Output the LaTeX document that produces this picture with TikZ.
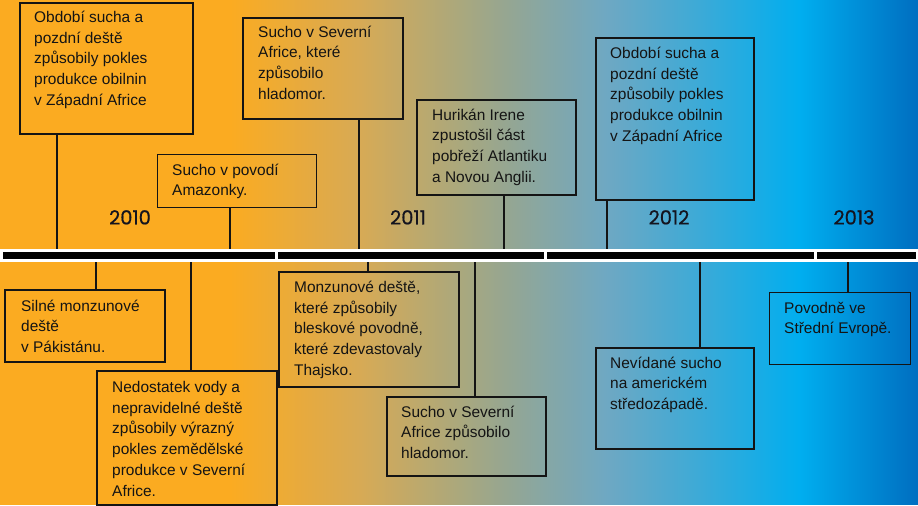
\documentclass[tikz,border=0pt]{standalone}
\usepackage{fontspec}
\setmainfont{Liberation Sans}
\newfontfamily\yearfont[FakeBold=0.6]{Poppins}
\definecolor{c0}{RGB}{251,171,33}
\definecolor{c1}{RGB}{215,170,85}
\definecolor{c2}{RGB}{170,168,125}
\definecolor{c3}{RGB}{150,166,145}
\definecolor{c4}{RGB}{110,168,195}
\definecolor{c5}{RGB}{60,170,215}
\definecolor{c6}{RGB}{0,174,239}
\definecolor{c7}{RGB}{0,110,192}
\definecolor{ink}{RGB}{20,20,20}
\definecolor{yearink}{RGB}{20,20,30}
\pgfdeclarehorizontalshading{bgshade}{100bp}{color(0bp)=(c0); color(37.53bp)=(c0); color(44.61bp)=(c1); color(50.05bp)=(c2); color(52.51bp)=(c3); color(58.06bp)=(c4); color(63.13bp)=(c5); color(68.57bp)=(c6); color(75bp)=(c7); color(100bp)=(c7)}
\tikzset{
  box/.style={draw=ink, line width=2bp, inner sep=0pt, anchor=north west},
  thinbox/.style={box, line width=1.3bp},
  txt/.style={anchor=base west, align=left, inner sep=0pt, text=ink, font=\fontsize{15.5}{20.8}\selectfont},
  yearlbl/.style={anchor=base, inner sep=0pt, text=yearink, font=\yearfont\fontsize{19.5}{21}\selectfont},
  conn/.style={draw=ink, line width=2bp},
  barseg/.style={fill=black, inner sep=0pt, anchor=north west, minimum height=7bp},
}
\begin{document}
\begin{tikzpicture}[x=1bp,y=-1bp]
\useasboundingbox (0,0) rectangle (918,506);
\fill[white] (0,0) rectangle (918,506);
\shade[shading=bgshade] (0,1) rectangle (918,504);
% timeline band
\node[fill=white, inner sep=0pt, anchor=north west, minimum width=918bp, minimum height=13bp] (band) at (0,249) {};
\node[barseg, minimum width=272bp] (bar1) at (3,252) {};
\node[barseg, minimum width=266bp] (bar2) at (278,252) {};
\node[barseg, minimum width=267bp] (bar3) at (547,252) {};
\node[barseg, minimum width=99bp] (bar4) at (817,252) {};
% years
\node[yearlbl] (y2010) at (130,224.5) {2010};
\node[yearlbl] (y2011) at (408,224.5) {2011};
\node[yearlbl] (y2012) at (669,224.5) {2012};
\node[yearlbl] (y2013) at (854,224.5) {2013};
% top boxes
\node[box, minimum width=173bp, minimum height=131bp] (bA) at (19,2) {};
\node[thinbox, minimum width=159bp, minimum height=53bp] (bB) at (157,154) {};
\node[box, minimum width=160bp, minimum height=101bp] (bC) at (242,17) {};
\node[box, minimum width=159bp, minimum height=95bp] (bD) at (416,99) {};
\node[box, minimum width=158bp, minimum height=162bp] (bE) at (595,37) {};
% bottom boxes
\node[box, minimum width=160bp, minimum height=72bp] (bF) at (4,289) {};
\node[box, minimum width=180bp, minimum height=134bp] (bG) at (96,370) {};
\node[box, minimum width=180bp, minimum height=115bp] (bH) at (278,271) {};
\node[box, minimum width=159bp, minimum height=79bp] (bI) at (386,396) {};
\node[box, minimum width=158bp, minimum height=101bp] (bJ) at (595,347) {};
\node[thinbox, minimum width=141bp, minimum height=72bp] (bK) at (769,292) {};
% texts (anchor = baseline of the last line)
\node[txt] (tA) at (34,105.2) {Období sucha a\\pozdní deště\\způsobily pokles\\produkce obilnin\\v Západní Africe};
\node[txt] (tB) at (172,195.8) {Sucho v povodí\\Amazonky.};
\node[txt] (tC) at (258,99.4) {Sucho v Severní\\Africe, které\\způsobilo\\hladomor.};
\node[txt] (tD) at (432,182.4) {Hurikán Irene\\zpustošil část\\pobřeží Atlantiku\\a Novou Anglii.};
\node[txt] (tE) at (610,141.2) {Období sucha a\\pozdní deště\\způsobily pokles\\produkce obilnin\\v Západní Africe};
\node[txt] (tF) at (21,352.6) {Silné monzunové\\deště\\v Pákistánu.};
\node[txt] (tG) at (112,496) {Nedostatek vody a\\nepravidelné deště\\způsobily výrazný\\pokles zemědělské\\produkce v Severní\\Africe.};
\node[txt] (tH) at (294,375.2) {Monzunové deště,\\které způsobily\\bleskové povodně,\\které zdevastovaly\\Thajsko.};
\node[txt] (tI) at (401,458.6) {Sucho v Severní\\Africe způsobilo\\hladomor.};
\node[txt] (tJ) at (610,409.6) {Nevídané sucho\\na americkém\\středozápadě.};
\node[txt] (tK) at (784,333.8) {Povodně ve\\Střední Evropě.};
% connector x positions
\coordinate (xA) at (57,0);
\coordinate (xB) at (230,0);
\coordinate (xC) at (359,0);
\coordinate (xD) at (504,0);
\coordinate (xE) at (607,0);
\coordinate (xF) at (96,0);
\coordinate (xG) at (191,0);
\coordinate (xH) at (368,0);
\coordinate (xI) at (475,0);
\coordinate (xJ) at (700,0);
\coordinate (xK) at (848,0);
\draw[conn] (bA.south -| xA) -- (band.north -| xA);
\draw[conn] (bB.south -| xB) -- (band.north -| xB);
\draw[conn] (bC.south -| xC) -- (band.north -| xC);
\draw[conn] (bD.south -| xD) -- (band.north -| xD);
\draw[conn] (bE.south -| xE) -- (band.north -| xE);
\draw[conn] (band.south -| xF) -- (bF.north -| xF);
\draw[conn] (band.south -| xG) -- (bG.north -| xG);
\draw[conn] (band.south -| xH) -- (bH.north -| xH);
\draw[conn] (band.south -| xI) -- (bI.north -| xI);
\draw[conn] (band.south -| xJ) -- (bJ.north -| xJ);
\draw[conn] (band.south -| xK) -- (bK.north -| xK);
\end{tikzpicture}
\end{document}
